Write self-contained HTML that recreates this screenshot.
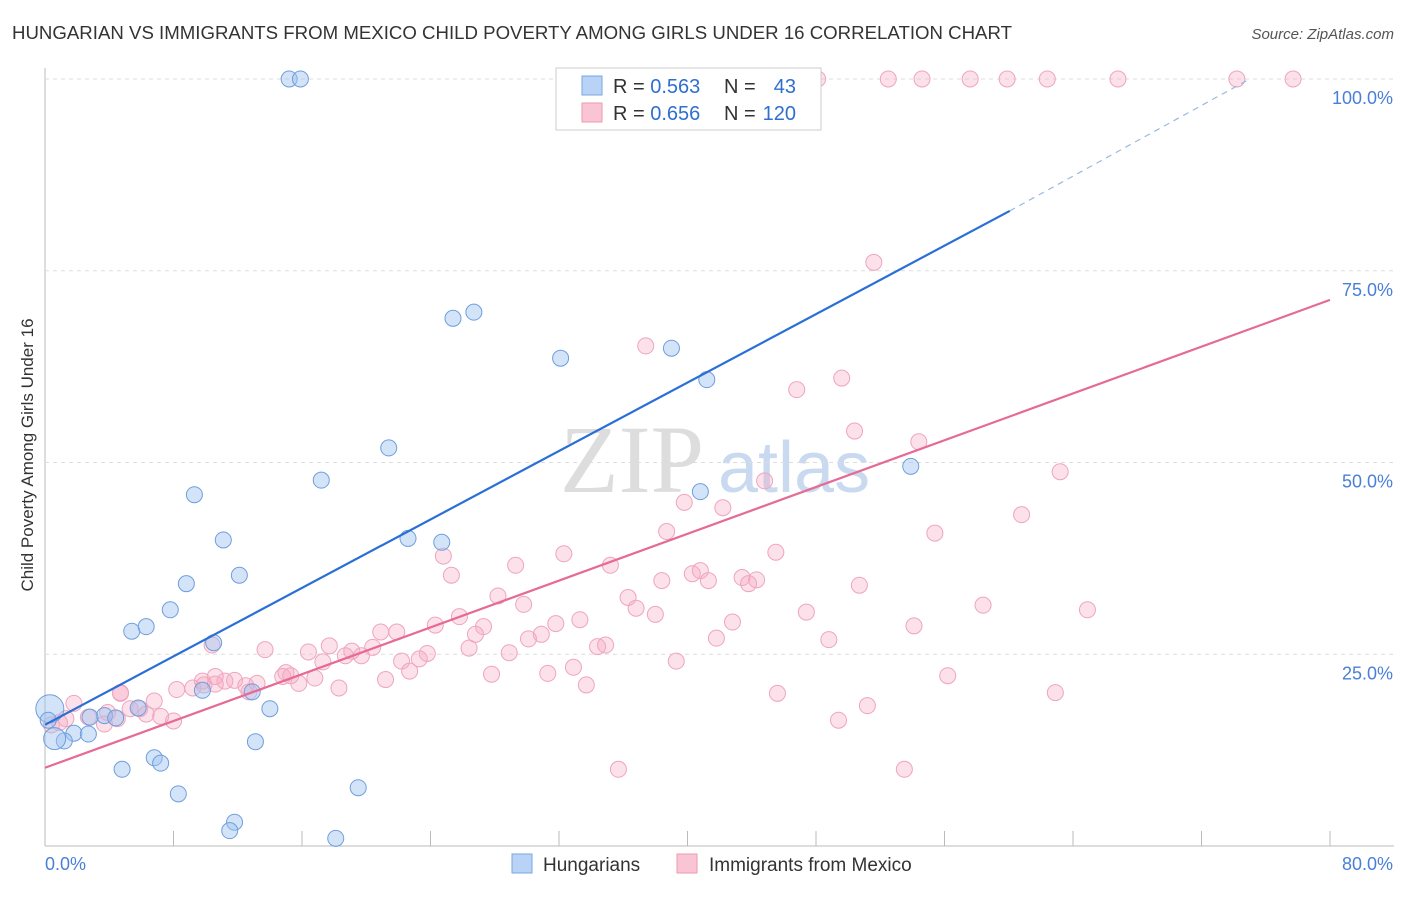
<!DOCTYPE html>
<html><head><meta charset="utf-8"><style>
body{margin:0;background:#fff;font-family:"Liberation Sans",sans-serif}
</style></head><body>
<svg id="c" width="1406" height="892" xmlns="http://www.w3.org/2000/svg" style="font-family:'Liberation Sans',sans-serif">
<text x="12" y="39" font-size="18" fill="#333" textLength="1000" lengthAdjust="spacingAndGlyphs">HUNGARIAN VS IMMIGRANTS FROM MEXICO CHILD POVERTY AMONG GIRLS UNDER 16 CORRELATION CHART</text>
<text x="1394" y="39" font-size="15" fill="#555" text-anchor="end" font-style="italic">Source: ZipAtlas.com</text>
<text x="33" y="455" font-size="17" fill="#333" text-anchor="middle" transform="rotate(-90 33 455)">Child Poverty Among Girls Under 16</text>
<text x="560" y="492" font-size="96" fill="#ddd" font-family="Liberation Serif">ZIP</text>
<text x="718" y="492" font-size="72" fill="#c9daf0">atlas</text>
<g id="grid"></g><g id="pts"></g><g id="lines"></g>
<g>
<rect x="556" y="68" width="265" height="62" fill="#fff" stroke="#ccc"/>
<rect x="582" y="76" width="20" height="19" fill="#b8d3f5" stroke="#7aa7e0"/>
<rect x="582" y="103" width="20" height="19" fill="#f9c4d3" stroke="#ee9ab3"/>
<text x="613" y="93" font-size="20" fill="#333">R = <tspan fill="#2f6fd0">0.563</tspan></text>
<text x="724" y="93" font-size="20" fill="#333">N =</text>
<text x="796" y="93" font-size="20" fill="#2f6fd0" text-anchor="end">43</text>
<text x="613" y="120" font-size="20" fill="#333">R = <tspan fill="#2f6fd0">0.656</tspan></text>
<text x="724" y="120" font-size="20" fill="#333">N =</text>
<text x="796" y="120" font-size="20" fill="#2f6fd0" text-anchor="end">120</text>
</g>
<g>
<rect x="512" y="854" width="20" height="19" fill="#b8d3f5" stroke="#7aa7e0"/>
<text x="543" y="871" font-size="19" fill="#333">Hungarians</text>
<rect x="677" y="854" width="20" height="19" fill="#f9c4d3" stroke="#ee9ab3"/>
<text x="709" y="871" font-size="19" fill="#333">Immigrants from Mexico</text>
</g>
</svg>
<script>
const xTicks=[0,8,16,24,32,40,48,56,64,72,80];
const yTicks=[25,50,75,100];
const blueX=[15.2,15.9,25.4,26.7,32.1,39.0,41.2,21.4,17.2,9.3,53.9,40.8,22.6,24.7,11.1,12.1,8.8,7.8,5.4,6.3,10.5,9.8,12.9,14.0,5.8,3.7,4.4,2.8,1.8,2.7,1.2,0.6,0.3,0.2,4.8,6.8,7.2,13.1,8.3,19.5,11.8,11.5,18.1];
const blueY=[100,100,68.8,69.6,63.6,64.9,60.8,51.9,47.7,45.8,49.5,46.2,40.1,39.6,39.9,35.3,34.2,30.8,28.0,28.6,26.5,20.3,20.1,17.9,18.0,17.0,16.7,16.8,14.7,14.6,13.7,14.0,17.9,16.4,10.0,11.5,10.8,13.6,6.8,7.6,3.1,2.0,1.0];
const blueR=[8,8,8,8,8,8,8,8,8,8,8,8,8,8,8,8,8,8,8,8,8,8,8,8,8,8,8,8,8,8,8,11,14,8,8,8,8,8,8,8,8,8,8];
const pinkX=[48.1,52.5,54.6,57.6,59.9,62.4,66.8,74.2,77.7,51.6,37.4,49.6,46.8,50.4,54.4,63.2,44.8,39.8,42.2,60.8,38.7,55.4,24.8,32.3,45.5,29.3,35.2,25.3,40.3,40.8,41.3,38.4,43.4,44.3,43.8,50.7,28.2,36.3,29.8,36.8,25.8,33.3,38.0,58.4,64.9,47.4,27.3,24.3,31.8,20.9,21.9,26.8,42.8,30.1,30.9,54.1,41.8,48.8,10.4,13.7,17.7,16.4,26.4,34.4,34.9,20.4,19.1,19.7,17.3,18.7,23.8,23.3,22.2,28.9,15.0,14.8,15.3,16.8,22.7,21.2,27.8,32.9,39.3,15.8,18.3,11.8,11.2,9.9,9.2,13.2,12.5,8.2,4.7,9.8,10.6,4.7,6.8,10.6,12.7,56.2,33.7,31.3,1.8,5.3,5.9,3.9,8.0,6.3,7.2,4.5,2.7,1.3,3.7,45.6,62.9,51.2,49.4,35.7,53.5,0.9,0.4];
const pinkY=[100,100,100,100,100,100,100,100,100,76.1,65.2,61.0,59.5,54.1,52.7,48.8,47.6,44.8,44.1,43.2,41.0,40.8,37.8,38.1,38.3,36.6,36.6,35.3,35.5,35.9,34.6,34.6,35.0,34.7,34.2,34.0,32.6,32.4,31.5,31.0,29.9,29.5,30.2,31.4,30.8,30.5,28.6,28.8,29.0,27.9,27.9,27.6,29.2,27.0,27.6,28.7,27.1,26.9,26.2,25.6,26.1,25.3,25.8,26.0,26.2,25.9,25.4,24.8,24.0,24.8,25.1,24.4,24.1,25.2,22.6,22.1,22.2,21.9,22.8,21.7,22.4,23.3,24.1,21.2,20.6,21.6,21.5,21.0,20.6,21.2,20.9,20.4,20.0,21.5,22.1,19.9,18.9,21.1,20.1,22.2,21.0,22.5,18.6,17.9,17.9,17.4,16.3,17.2,16.9,16.6,16.8,16.6,15.9,19.9,20.0,18.3,16.4,10.0,10.0,16.1,15.8];
const blueLine=[15.8,82.8,100];const blueLineX=[0,60.06,75];
const pinkLine=[10.2,71.2];const pinkLineX=[0,80];
const X=v=>45+v*16.0625, Y=v=>846-v*7.67;
const ns='http://www.w3.org/2000/svg';
function mk(t,a,p){const e=document.createElementNS(ns,t);for(const k in a)e.setAttribute(k,a[k]);document.getElementById(p).appendChild(e);return e;}
let ax=mk('line',{x1:45,y1:846,x2:1394,y2:846,stroke:'#bbb'},'grid');


let ay=mk('line',{x1:45,y1:68,x2:45,y2:846,stroke:'#bbb'},'grid');


xTicks.forEach(t=>{const e=mk('line',{x1:X(t),y1:831,x2:X(t),y2:846,stroke:'#bbb'},'grid');

});
yTicks.forEach(t=>{const g=mk('line',{x1:45,y1:Y(t),x2:1394,y2:Y(t),stroke:'#ddd','stroke-dasharray':'4,4'},'grid');


const l=mk('text',{x:1393,y:Y(t)+25,'font-size':18,fill:'#4a7fd8','text-anchor':'end'},'grid');l.textContent=t.toFixed(1)+'%';

});
[[0,45,'start'],[80,1393,'end']].forEach(([v,x,a])=>{const l=mk('text',{x:x,y:870,'font-size':18,fill:'#4a7fd8','text-anchor':a},'grid');l.textContent=v.toFixed(1)+'%';

});
pinkX.forEach((v,i)=>{const c=mk('circle',{cx:X(v),cy:Y(pinkY[i]),r:8,fill:'rgba(246,170,195,0.35)',stroke:'#eea5bd','stroke-width':1},'pts');

});
blueX.forEach((v,i)=>{const c=mk('circle',{cx:X(v),cy:Y(blueY[i]),r:blueR[i],fill:'rgba(160,195,240,0.45)',stroke:'#6e9fdc','stroke-width':1},'pts');

});
let b1=mk('line',{x1:X(blueLineX[0]),y1:Y(blueLine[0]),x2:X(blueLineX[1]),y2:Y(blueLine[1]),stroke:'#2a6fd6','stroke-width':2.2},'lines');


let b2=mk('line',{x1:X(blueLineX[1]),y1:Y(blueLine[1]),x2:X(blueLineX[2]),y2:Y(blueLine[2]),stroke:'#9bb8e0','stroke-width':1.2,'stroke-dasharray':'6,5'},'lines');


let p1=mk('line',{x1:X(pinkLineX[0]),y1:Y(pinkLine[0]),x2:X(pinkLineX[1]),y2:Y(pinkLine[1]),stroke:'#e56a95','stroke-width':2.2},'lines');


</script>
</body></html>
